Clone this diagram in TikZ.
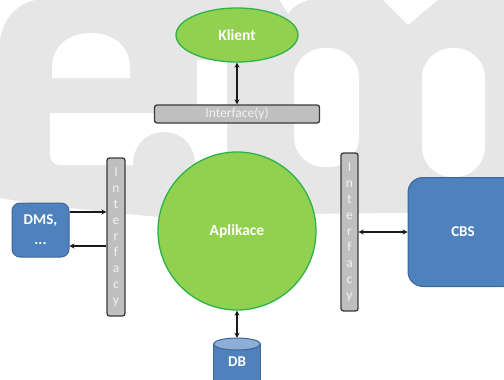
\documentclass[tikz,border=0pt]{standalone}
\usepackage{fontspec}
\setmainfont{Carlito}
\usetikzlibrary{arrows.meta,calc,shapes.geometric}
\definecolor{wm}{HTML}{E6E6E6}
\definecolor{grfill}{HTML}{92D050}
\definecolor{grline}{HTML}{2DB34A}
\definecolor{blfill}{HTML}{4F81BD}
\definecolor{blline}{HTML}{3E6597}
\definecolor{blend}{HTML}{8EAEDA}
\definecolor{barfill}{HTML}{BFBFBF}
\definecolor{barline}{HTML}{3A3A3A}
\definecolor{bartext}{HTML}{F2F2F2}
\begin{document}
\begin{tikzpicture}[x=1pt,y=-1pt,
  greennode/.style={fill=grfill,draw=grline,line width=1.3pt,text=white,inner sep=0pt,font=\fontsize{15.5}{18}\selectfont\bfseries},
  bluebox/.style={fill=blfill,draw=blline,line width=1pt,rounded corners=8pt,text=white,inner sep=0pt,font=\fontsize{15}{20}\selectfont\bfseries},
  ifbar/.style={fill=barfill,draw=barline,line width=1.3pt,rounded corners=2.5pt,text=bartext,inner sep=0pt,font=\fontsize{13.5}{16}\selectfont},
  conn/.style={line width=1.1pt,draw=black!90,{Stealth[length=5pt,width=5pt]}-{Stealth[length=5pt,width=5pt]}},
  oneway/.style={line width=1.1pt,draw=black!90,-{Stealth[length=5pt,width=5pt]}}]
\useasboundingbox (0,0) rectangle (504,380);
% watermark
\fill[wm] (0,40) .. controls (3,20) and (15,5) .. (35,0) -- (504,0) -- (504,212) -- (195,215) -- (160,217) .. controls (100,212) and (40,205) .. (0,198) -- cycle;
\fill[white] (52,78) -- (52,68) .. controls (52,45) and (70,33) .. (91,33) .. controls (112,33) and (130,45) .. (130,68) -- (130,78) -- cycle;
\fill[white] (50,113) -- (197,113) -- (197,60) -- (227,60) -- (227,218) -- (195,218) -- (195,165) .. controls (195,145) and (182,132) .. (164,132) .. controls (146,132) and (133,145) .. (133,165) -- (60,165) .. controls (54,165) and (50,161) .. (50,155) -- cycle;
\fill[white, rounded corners=30pt] (294,48) rectangle (359,167);
\fill[white, rounded corners=30pt] (422,48) rectangle (485,177);
\fill[white] (382,-1) -- (439,-1) -- (408,25) -- cycle;
\fill[white] (279,-1) -- (312,-1) .. controls (300,2) and (292,7) .. (288,14) -- cycle;
% nodes
\node[greennode, ellipse, minimum width=122pt, minimum height=54pt] (klient) at (237,35) {Klient};
\node[ifbar, minimum width=165pt, minimum height=18pt] (ify) at (237,114) {Interface(y)};
\node[greennode, circle, minimum size=158pt] (app) at (237,231) {Aplikace};
\node[ifbar, minimum width=18pt, minimum height=158pt, align=center] (lbar) at (116,237) {I\\n\\t\\e\\r\\f\\a\\c\\y};
\node[ifbar, minimum width=17pt, minimum height=158pt, align=center] (rbar) at (349.5,232) {I\\n\\t\\e\\r\\f\\a\\c\\y};
\node[bluebox, minimum width=57pt, minimum height=54pt, align=center] (dms) at (40.5,230) {DMS,\\...};
\node[bluebox, rounded corners=15pt, minimum width=110pt, minimum height=109pt] (cbs) at (463,232) {CBS};
% DB cylinder
\filldraw[fill=blfill,draw=blline,line width=1pt] (213.5,344) -- (213.5,392) -- (260.5,392) -- (260.5,344);
\filldraw[fill=blend,draw=blline,line width=1pt] (237,344) ellipse [x radius=23.5pt, y radius=6pt];
\node[text=white, inner sep=0pt, minimum width=47pt, minimum height=48pt, font=\fontsize{15}{18}\selectfont\bfseries] (db) at (237,362) {DB};
% connectors
\draw[conn] (klient.south) -- (ify.north);
\draw[conn] (app.south) -- (db.north);
\draw[conn] (rbar.east) -- (cbs.west);
\coordinate (dmsU) at ($(dms.east)+(0,-18)$);
\coordinate (dmsL) at ($(dms.east)+(0,16)$);
\draw[oneway] (dmsU) -- (dmsU -| lbar.west);
\draw[oneway] (dmsL -| lbar.west) -- (dmsL);
\end{tikzpicture}
\end{document}
